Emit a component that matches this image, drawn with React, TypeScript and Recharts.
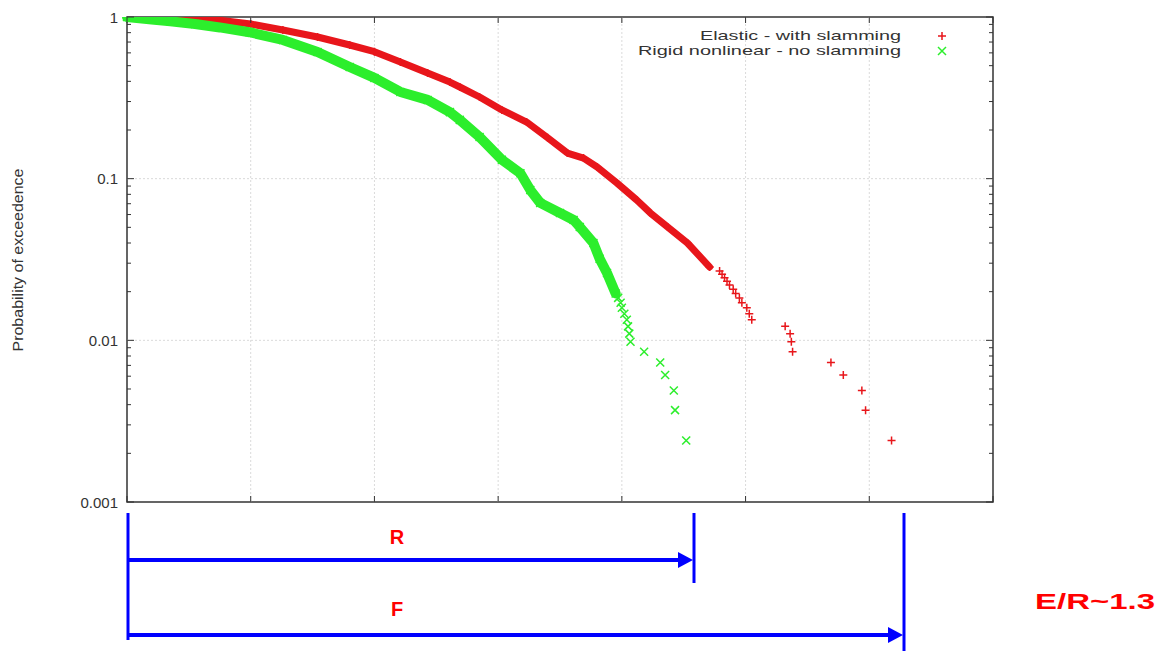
import { ScatterChart, Scatter, XAxis, YAxis, ReferenceLine, ReferenceArea } from "recharts";

// Elastic - with slamming (dense part)
const redDenseX = [0, 0.2, 0.4, 0.6, 0.75, 1.0, 1.26, 1.54, 1.8, 2.0, 2.21, 2.43, 2.61, 2.69, 2.85, 3.03, 3.23, 3.4, 3.56, 3.69, 3.8, 3.96, 4.12, 4.23, 4.37, 4.53, 4.71];
const redDenseP = [1, 0.995, 0.985, 0.968, 0.955, 0.905, 0.831, 0.752, 0.671, 0.61, 0.527, 0.451, 0.396, 0.369, 0.32, 0.266, 0.224, 0.179, 0.144, 0.134, 0.118, 0.094, 0.0738, 0.0614, 0.0503, 0.04, 0.0284];
// Elastic - with slamming (isolated tail points)
const redTailX = [4.79, 4.81, 4.83, 4.85, 4.87, 4.9, 4.92, 4.95, 4.97, 5.01, 5.03, 5.05, 5.32, 5.36, 5.37, 5.38, 5.69, 5.79, 5.94, 5.97, 6.18];
const redTailP = [0.0268, 0.0256, 0.0244, 0.0232, 0.022, 0.0207, 0.0195, 0.0183, 0.0171, 0.0159, 0.0146, 0.0134, 0.0122, 0.011, 0.0098, 0.0085, 0.0073, 0.0061, 0.0049, 0.0037, 0.0024];

// Rigid nonlinear - no slamming
const greenDenseX = [0, 0.2, 0.35, 0.55, 0.75, 0.99, 1.26, 1.54, 1.8, 2.0, 2.21, 2.43, 2.61, 2.69, 2.85, 3.03, 3.18, 3.26, 3.34, 3.5, 3.61, 3.66, 3.77, 3.82, 3.88, 3.95];
const greenDenseP = [1, 0.965, 0.94, 0.905, 0.862, 0.805, 0.721, 0.608, 0.491, 0.42, 0.344, 0.307, 0.258, 0.231, 0.181, 0.131, 0.108, 0.085, 0.0708, 0.0614, 0.0555, 0.0503, 0.04, 0.032, 0.0261, 0.0195];
const greenTailX = [3.97, 3.99, 4.0, 4.02, 4.04, 4.05, 4.06, 4.07, 4.18, 4.31, 4.35, 4.42, 4.43, 4.52];
const greenTailP = [0.0183, 0.0171, 0.0159, 0.0146, 0.0134, 0.0122, 0.011, 0.0098, 0.0085, 0.0073, 0.0061, 0.0049, 0.0037, 0.0024];

const xTicks = [0, 1, 2, 3, 4, 5, 6, 7];
const gridX = [1, 2, 3, 4, 5, 6];
const gridY = [0.01, 0.1];
const decades = [0.001, 0.01, 0.1, 1];
const decadeLabels = ["0.001", "0.01", "0.1", "1"];
const seriesNames = ["Elastic - with slamming", "Rigid nonlinear - no slamming"];

const minorTicks: number[] = [];
decades.slice(0, 3).forEach((d) => {
  for (let m = 2; m <= 9; m++) minorTicks.push(+(d * m).toPrecision(3));
});
const yTicks = [...decades, ...minorTicks].sort((a, b) => a - b);

const zip = (xs: number[], ps: number[]) => xs.map((x, i) => ({ x, p: ps[i] }));

const W = 1160;
const H = 651;
const L = 127;
const T = 17;
const R = 993;
const B = 502;
const FONT = "'Liberation Sans', Arial, sans-serif";
const RED = "#e8161b";
const GREEN = "#2cee2c";
const BLUE = "#0000ff";
const AXIS = "#333";

const plus = (color: string) => (props: any) => {
  const { cx, cy } = props;
  return <path d={`M${cx - 4},${cy}h8M${cx},${cy - 4}v8`} stroke={color} strokeWidth={1.5} fill="none" />;
};

const cross = (color: string) => (props: any) => {
  const { cx, cy } = props;
  return <path d={`M${cx - 4},${cy - 4}l8,8M${cx - 4},${cy + 4}l8,-8`} stroke={color} strokeWidth={1.5} fill="none" />;
};

function XTick(props: any) {
  const { x } = props;
  return (
    <g>
      <line x1={x} x2={x} y1={B} y2={B - 6} stroke={AXIS} />
      <line x1={x} x2={x} y1={T} y2={T + 6} stroke={AXIS} />
    </g>
  );
}

function YTick(props: any) {
  const { y, payload } = props;
  const idx = decades.indexOf(payload.value);
  const len = idx >= 0 ? 7 : 4;
  return (
    <g>
      <line x1={L} x2={L + len} y1={y} y2={y} stroke={AXIS} />
      <line x1={R - len} x2={R} y1={y} y2={y} stroke={AXIS} />
      {idx >= 0 && (
        <text x={L - 9} y={y} textAnchor="end" dominantBaseline="central" fontSize={15} fill={AXIS} fontFamily={FONT}>
          {decadeLabels[idx]}
        </text>
      )}
    </g>
  );
}

export default function App() {
  return (
    <div style={{ position: "absolute", left: 0, top: 0, width: W, height: H, background: "#fff", fontFamily: FONT }}>
      <ScatterChart width={W} height={H} margin={{ top: T, right: W - R, bottom: H - B - 20, left: L - 60 }}>
        <XAxis type="number" dataKey="x" domain={[0, 7]} ticks={xTicks} height={20} axisLine={false} tickLine={false} tick={<XTick />} />
        <YAxis
          type="number"
          dataKey="p"
          scale="log"
          domain={[0.001, 1]}
          allowDataOverflow
          ticks={yTicks}
          interval={0}
          width={60}
          axisLine={false}
          tickLine={false}
          tick={<YTick />}
        />
        {gridX.map((v) => (
          <ReferenceLine key={`gx${v}`} x={v} stroke="#dadada" strokeDasharray="2 2" />
        ))}
        {gridY.map((v) => (
          <ReferenceLine key={`gy${v}`} y={v} stroke="#dadada" strokeDasharray="2 2" />
        ))}
        <ReferenceArea x1={0} x2={7} y1={0.001} y2={1} fill="none" stroke={AXIS} strokeWidth={1.5} />
        <Scatter
          name={seriesNames[0]}
          data={zip(redDenseX, redDenseP)}
          shape={plus(RED)}
          line={{ stroke: RED, strokeWidth: 7, strokeLinecap: "round", strokeLinejoin: "round" }}
          isAnimationActive={false}
        />
        <Scatter name={seriesNames[0]} data={zip(redTailX, redTailP)} shape={plus(RED)} isAnimationActive={false} />
        <Scatter
          name={seriesNames[1]}
          data={zip(greenDenseX, greenDenseP)}
          shape={cross(GREEN)}
          line={{ stroke: GREEN, strokeWidth: 10, strokeLinecap: "round", strokeLinejoin: "round" }}
          isAnimationActive={false}
        />
        <Scatter name={seriesNames[1]} data={zip(greenTailX, greenTailP)} shape={cross(GREEN)} isAnimationActive={false} />
      </ScatterChart>

      <svg width={W} height={H} style={{ position: "absolute", left: 0, top: 0, pointerEvents: "none" }} fontFamily={FONT}>
        {/* axis title */}
        <text
          x={18}
          y={260}
          transform="rotate(-90 18 260)"
          textAnchor="middle"
          dominantBaseline="central"
          fontSize={14}
          fill={AXIS}
          textLength={183}
          lengthAdjust="spacingAndGlyphs"
        >
          Probability of exceedence
        </text>

        {/* legend */}
        <text x={901} y={40} textAnchor="end" fontSize={13} fill={AXIS} textLength={201} lengthAdjust="spacingAndGlyphs">
          {seriesNames[0]}
        </text>
        <text x={901} y={54.5} textAnchor="end" fontSize={13} fill={AXIS} textLength={263} lengthAdjust="spacingAndGlyphs">
          {seriesNames[1]}
        </text>
        {plus(RED)({ cx: 942, cy: 36 })}
        {cross(GREEN)({ cx: 942, cy: 51 })}

        {/* R / E annotation */}
        <g stroke={BLUE} strokeWidth={3}>
          <line x1={128} x2={128} y1={513} y2={640} />
          <line x1={694} x2={694} y1={513} y2={583} />
          <line x1={904} x2={904} y1={513} y2={651} />
          <line x1={128} x2={680} y1={560} y2={560} strokeWidth={4} />
          <line x1={128} x2={890} y1={635} y2={635} strokeWidth={4} />
        </g>
        <path d="M678,552 L693,560 L678,568 Z" fill={BLUE} />
        <path d="M888,627 L903,635 L888,643 Z" fill={BLUE} />
        <text x={397} y={537} textAnchor="middle" dominantBaseline="central" fontSize={20} fontWeight="bold" fill="#ff0000">
          R
        </text>
        <text x={397} y={609} textAnchor="middle" dominantBaseline="central" fontSize={20} fontWeight="bold" fill="#ff0000">
          F
        </text>
        <text
          x={1035}
          y={601}
          dominantBaseline="central"
          fontSize={22}
          fontWeight="bold"
          fill="#ff0000"
          textLength={120}
          lengthAdjust="spacingAndGlyphs"
        >
          E/R~1.3
        </text>
      </svg>
    </div>
  );
}
